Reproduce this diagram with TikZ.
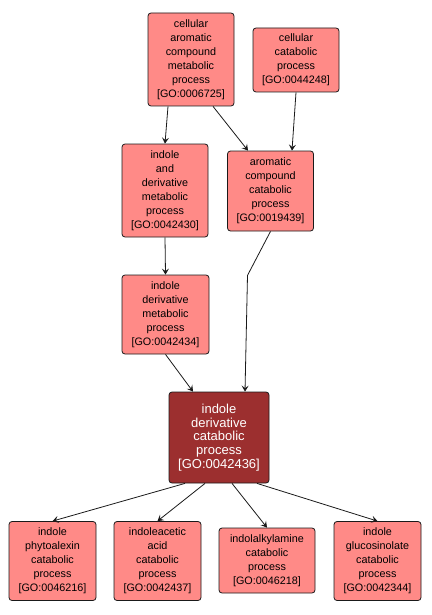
\documentclass[tikz,border=0pt]{standalone}
\usepackage{fontspec}
\setmainfont{Liberation Sans}
\usepackage{tikz}
\usetikzlibrary{arrows.meta,calc,positioning}
\definecolor{Salmon}{HTML}{FF8A87}
\definecolor{Wine}{HTML}{9C2F2F}
\definecolor{Edge}{HTML}{1A1A1A}

\begin{document}
\begin{tikzpicture}[
  x=1pt,y=-1pt,
  term/.style={draw=Edge,rounded corners=3pt,fill=Salmon,align=center,
    inner sep=0pt,line width=0.8pt,font=\fontsize{10.8}{14}\selectfont},
  focus/.style={term,fill=Wine,text=white,font=\fontsize{13}{13.6}\selectfont},
  arr/.style={-{Stealth[length=6pt,width=7pt,inset=2.5pt]},line width=0.8pt,color=Edge}
]
\useasboundingbox (0,0) rectangle (431,615);
% Upper terms.
\node[term,minimum width=86pt,minimum height=93pt] (acm) at (191,59.5)
  {cellular\\aromatic\\compound\\metabolic\\process\\{[GO:0006725]}};
\node[term,minimum width=86pt,minimum height=64pt] (ccp) at (296,60)
  {cellular\\catabolic\\process\\{[GO:0044248]}};
\node[term,minimum width=86pt,minimum height=93pt] (idm) at (165,190.5)
  {indole\\and\\derivative\\metabolic\\process\\{[GO:0042430]}};
\node[term,minimum width=86pt,minimum height=80pt] (acc) at (270.5,191)
  {aromatic\\compound\\catabolic\\process\\{[GO:0019439]}};
\node[term,minimum width=87pt,minimum height=79pt] (idr) at (165.5,314.5)
  {indole\\derivative\\metabolic\\process\\{[GO:0042434]}};

% Focus term.
\node[focus,minimum width=100pt,minimum height=91pt] (idc) at (219,437.5)
  {indole\\derivative\\catabolic\\process\\{[GO:0042436]}};

% Child terms.
\node[term,minimum width=87pt,minimum height=79pt] (phy) at (52.5,561)
  {indole\\phytoalexin\\catabolic\\process\\{[GO:0046216]}};
\node[term,minimum width=87pt,minimum height=79pt] (iaa) at (157.5,561)
  {indoleacetic\\acid\\catabolic\\process\\{[GO:0042437]}};
\node[term,minimum width=96pt,minimum height=65pt] (ial) at (267,560.5)
  {indolalkylamine\\catabolic\\process\\{[GO:0046218]}};
\node[term,minimum width=87pt,minimum height=79pt] (igs) at (377.5,561)
  {indole\\glucosinolate\\catabolic\\process\\{[GO:0042344]}};

% Edges.
\draw[arr] ([xshift=-23pt]acm.south)--(idm.north);
\draw[arr] ([xshift=22pt]acm.south)--([xshift=-22.5pt]acc.north);
\draw[arr] (ccp.south)--([xshift=21.5pt]acc.north);
\draw[arr] (idm.south)--(idr.north);
\draw[arr] (acc.south)--([xshift=-23pt,yshift=-44pt]acc.south)--([xshift=26pt]idc.north);
\draw[arr] (idr.south)--([xshift=-26pt]idc.north);
\draw[arr] ([xshift=-34pt]idc.south)--(phy.north);
\draw[arr] ([xshift=-14pt]idc.south)--(iaa.north);
\draw[arr] ([xshift=13pt]idc.south)--(ial.north);
\draw[arr] ([xshift=38pt]idc.south)--(igs.north);
\end{tikzpicture}
\end{document}
